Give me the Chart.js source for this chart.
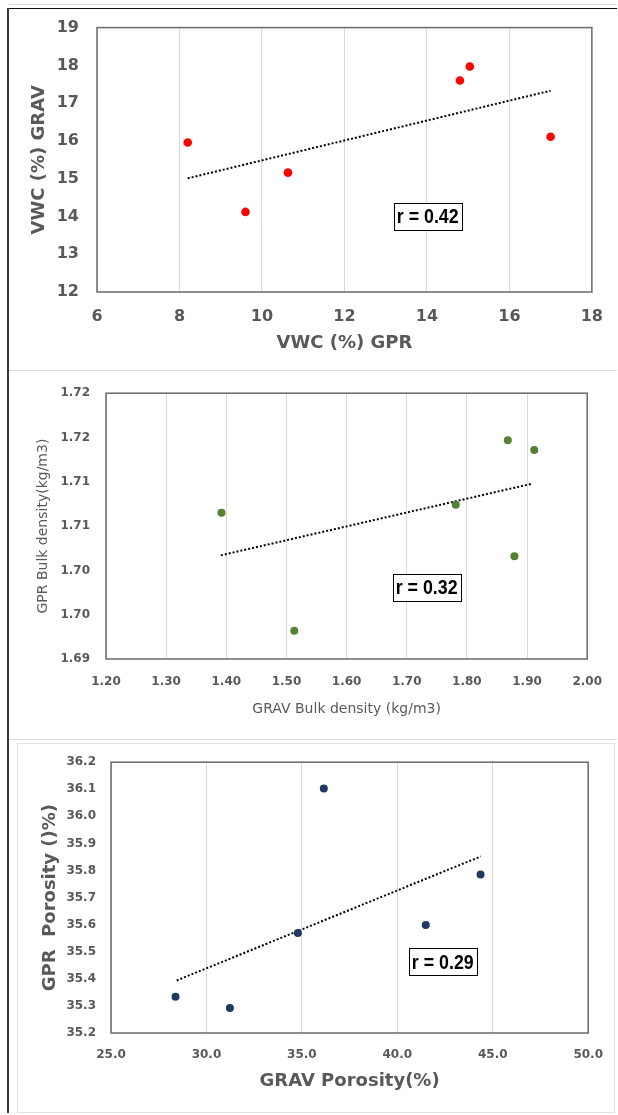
<!DOCTYPE html>
<html>
<head>
<meta charset="utf-8">
<script src="https://cdn.jsdelivr.net/npm/chart.js@4.4.1/dist/chart.umd.min.js"></script>
<style>
  html, body { margin: 0; padding: 0; background: #fff; }
  #page { position: relative; width: 618px; height: 1115px; overflow: hidden; background: #fff; }
  #page canvas { position: absolute; left: 0; }
  .ln { position: absolute; }
</style>
</head>
<body>
<div id="page">
  <div class="ln" style="left:9px;top:4px;width:608px;height:1px;background:#dcdcdc"></div>
  <div class="ln" style="left:8px;top:8px;width:609px;height:1px;background:#111"></div>
  <div class="ln" style="left:7px;top:8px;width:2px;height:1105px;background:#3a3a3a"></div>
  <div class="ln" style="left:9px;top:370px;width:608px;height:1px;background:#dcdcdc"></div>
  <div class="ln" style="left:9px;top:739px;width:608px;height:1px;background:#dcdcdc"></div>
  <div class="ln" style="left:17px;top:743px;width:598px;height:370px;border:1px solid #e0e0e0;box-sizing:border-box"></div>

  <canvas id="vwcChart" width="618" height="370" style="top:0"></canvas>
  <canvas id="bulkChart" width="618" height="370" style="top:370px"></canvas>
  <canvas id="porChart" width="618" height="375" style="top:740px"></canvas>
</div>

<script>
Chart.defaults.font.family = "'DejaVu Sans', sans-serif";
Chart.defaults.color = '#595959';
Chart.defaults.animation = false;
Chart.defaults.responsive = false;
Chart.defaults.devicePixelRatio = 1;
Chart.defaults.events = [];
Chart.defaults.plugins.legend.display = false;
Chart.defaults.plugins.tooltip.enabled = false;

// --- VWC ---
const vwcGpr  = [8.2, 9.6, 10.63, 14.8, 15.04, 17.0];
const vwcGrav = [15.96, 14.12, 15.16, 17.6, 17.97, 16.11];
const vwcTrendX = [8.2, 17.0];
const vwcTrendY = [15.01, 17.33];
const vwcXTicks = ['6', '8', '10', '12', '14', '16', '18'];
const vwcYTicks = ['12', '13', '14', '15', '16', '17', '18', '19'];

// --- Bulk density ---
const bulkGrav = [1.392, 1.513, 1.7815, 1.868, 1.879, 1.912];
const bulkGpr  = [1.7065, 1.6932, 1.7074, 1.7147, 1.7016, 1.7136];
const bulkTrendX = [1.391, 1.909];
const bulkTrendY = [1.7017, 1.7098];
const bulkXTicks = ['1.20', '1.30', '1.40', '1.50', '1.60', '1.70', '1.80', '1.90', '2.00'];
const bulkYTicks = ['1.69', '1.70', '1.70', '1.71', '1.71', '1.72', '1.72'];

// --- Porosity ---
const porGrav = [28.38, 31.23, 34.79, 36.15, 41.49, 44.36];
const porGpr  = [35.334, 35.292, 35.569, 36.103, 35.599, 35.785];
const porTrendX = [28.44, 44.37];
const porTrendY = [35.394, 35.852];
const porXTicks = ['25.0', '30.0', '35.0', '40.0', '45.0', '50.0'];
const porYTicks = ['35.2', '35.3', '35.4', '35.5', '35.6', '35.7', '35.8', '35.9', '36.0', '36.1', '36.2'];

const rTexts = ['r = 0.42', 'r = 0.32', 'r = 0.29'];

// dark frame around the plot area
const plotFrame = {
  id: 'plotFrame',
  beforeDatasetsDraw(chart) {
    const a = chart.chartArea, ctx = chart.ctx;
    ctx.save();
    ctx.strokeStyle = '#6a6a6a';
    ctx.lineWidth = 1.5;
    ctx.strokeRect(a.left, a.top, a.right - a.left, a.bottom - a.top);
    ctx.restore();
  }
};

// boxed correlation label
const rBox = {
  id: 'rBox',
  afterDatasetsDraw(chart, args, o) {
    const ctx = chart.ctx;
    const x = chart.scales.x.getPixelForValue(o.at[0]);
    const y = chart.scales.y.getPixelForValue(o.at[1]);
    ctx.save();
    ctx.font = "bold 20px 'Liberation Sans', Arial, sans-serif";
    const w = Math.round(ctx.measureText(o.text).width * 0.89 + 6), h = 27;
    const bx = Math.round(x - w / 2), by = Math.round(y - h / 2);
    ctx.fillStyle = '#fff';
    ctx.fillRect(bx, by, w, h);
    ctx.strokeStyle = '#000';
    ctx.lineWidth = 1;
    ctx.strokeRect(bx + 0.5, by + 0.5, w, h);
    ctx.translate(x, y + 1.5);
    ctx.scale(0.89, 1);
    ctx.fillStyle = '#000';
    ctx.textAlign = 'center';
    ctx.textBaseline = 'middle';
    ctx.fillText(o.text, 0, 0);
    ctx.restore();
  }
};

function panel(id, s) {
  return new Chart(document.getElementById(id), {
    type: 'scatter',
    data: {
      datasets: [{
        data: s.xs.map((v, i) => ({ x: v, y: s.ys[i] })),
        backgroundColor: s.color,
        borderWidth: 0,
        pointRadius: s.radius,
        order: 1
      }, {
        type: 'line',
        data: s.tx.map((v, i) => ({ x: v, y: s.ty[i] })),
        borderColor: '#000',
        borderWidth: 2,
        borderDash: [2, 2],
        pointRadius: 0,
        fill: false,
        order: 2
      }]
    },
    options: {
      layout: { padding: s.pad },
      scales: {
        x: {
          type: 'linear', min: s.xMin, max: s.xMax,
          afterFit: sc => { sc.height = s.xh; },
          grid: { color: '#d9d9d9', lineWidth: 1, drawTicks: false },
          border: { display: false },
          ticks: {
            stepSize: s.xStep, padding: s.xPad, maxRotation: 0, autoSkip: false,
            font: s.tickFont, color: '#595959',
            callback: (v, i) => s.xLabels[i] ?? v
          },
          title: { display: true, text: s.xTitle, font: s.titleFont, color: '#595959', padding: 0 }
        },
        y: {
          type: 'linear', min: s.yMin, max: s.yMax,
          afterFit: sc => { sc.width = s.yw; },
          grid: { display: false, drawTicks: false },
          border: { display: false },
          ticks: {
            stepSize: s.yStep, padding: s.yPad, autoSkip: false,
            font: s.tickFont, color: '#595959',
            callback: (v, i) => s.yLabels[i] ?? v
          },
          title: { display: true, text: s.yTitle, font: s.titleFont, color: '#595959', padding: 0 }
        }
      },
      plugins: { rBox: { text: s.r, at: s.rAt } }
    },
    plugins: [plotFrame, rBox]
  });
}

/* VWC */
panel('vwcChart', {
  xs: vwcGpr, ys: vwcGrav, tx: vwcTrendX, ty: vwcTrendY, color: '#ff0000', radius: 4.3,
  xMin: 6, xMax: 18, xStep: 2, xLabels: vwcXTicks, xTitle: 'VWC (%) GPR',
  yMin: 12, yMax: 19, yStep: 1, yLabels: vwcYTicks, yTitle: 'VWC (%) GRAV',
  pad: { left: 29, top: 26, right: 21, bottom: 16 }, yw: 68, xh: 62, xPad: 15, yPad: 18,
  tickFont: { size: 16, weight: 'bold' }, titleFont: { size: 18, weight: 'bold' },
  r: rTexts[0], rAt: [14.02, 14.01]
});

/* Bulk density */
panel('bulkChart', {
  xs: bulkGrav, ys: bulkGpr, tx: bulkTrendX, ty: bulkTrendY, color: '#548235', radius: 4,
  xMin: 1.2, xMax: 2.0, xStep: 0.1, xLabels: bulkXTicks, xTitle: 'GRAV Bulk density (kg/m3)',
  yMin: 1.69, yMax: 1.72, yStep: 0.005, yLabels: bulkYTicks, yTitle: 'GPR Bulk density(kg/m3)',
  pad: { left: 35, top: 20, right: 28, bottom: 22 }, yw: 71, xh: 59, xPad: 16, yPad: 16,
  tickFont: { size: 12, weight: 'bold' }, titleFont: { size: 14, weight: 'normal' },
  r: rTexts[1], rAt: [1.733, 1.6981]
});

/* Porosity */
panel('porChart', {
  xs: porGrav, ys: porGpr, tx: porTrendX, ty: porTrendY, color: '#203864', radius: 4,
  xMin: 25, xMax: 50, xStep: 5, xLabels: porXTicks, xTitle: 'GRAV Porosity(%)',
  yMin: 35.2, yMax: 36.2, yStep: 0.1, yLabels: porYTicks, yTitle: 'GPR  Porosity ()%)',
  pad: { left: 40, top: 22, right: 19, bottom: 23 }, yw: 71, xh: 59, xPad: 15, yPad: 15,
  tickFont: { size: 12, weight: 'bold' }, titleFont: { size: 18, weight: 'bold' },
  r: rTexts[2], rAt: [42.38, 35.463]
});
</script>
</body>
</html>
